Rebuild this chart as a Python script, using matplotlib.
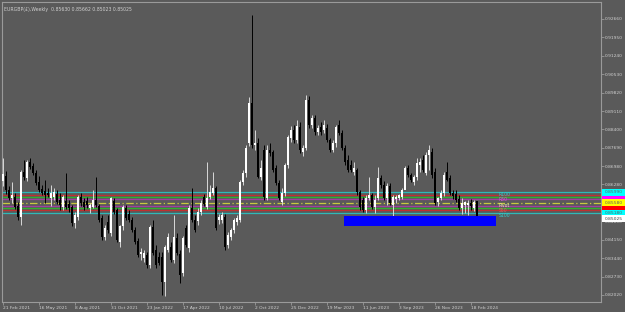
#!/usr/bin/env python3
# -*- coding: utf-8 -*-
"""
Weekly EURGBP candles with pivot levels, drawn in a terminal-like style.
"""

import matplotlib
matplotlib.use('Agg')
import matplotlib.pyplot as plt
import matplotlib.transforms as mtransforms
from matplotlib.patches import Rectangle

# weekly candles, 21 Feb 2021 .. 3 Mar 2024
opens = [
    0.8642, 0.8661, 0.8607, 0.8576, 0.8580, 0.8545, 0.8503, 0.8676, 0.8653, 0.8715,
    0.8699, 0.8672, 0.8638, 0.8611, 0.8603, 0.8595, 0.8576, 0.8580, 0.8591, 0.8568,
    0.8541, 0.8564, 0.8553, 0.8541, 0.8480, 0.8503, 0.8580, 0.8560, 0.8564, 0.8537,
    0.8541, 0.8568, 0.8545, 0.8499, 0.8426, 0.8484, 0.8441, 0.8564, 0.8530, 0.8406,
    0.8468, 0.8537, 0.8514, 0.8491, 0.8453, 0.8410, 0.8360, 0.8345, 0.8356, 0.8318,
    0.8464, 0.8376, 0.8349, 0.8349, 0.8252, 0.8376, 0.8387, 0.8337, 0.8422, 0.8360,
    0.8287, 0.8460, 0.8383, 0.8537, 0.8491, 0.8487, 0.8522, 0.8580, 0.8541, 0.8580,
    0.8595, 0.8615, 0.8491, 0.8491, 0.8503, 0.8395, 0.8426, 0.8453, 0.8484, 0.8491,
    0.8638, 0.8672, 0.8788, 0.8942, 0.8780, 0.8788, 0.8657, 0.8761, 0.8576, 0.8761,
    0.8753, 0.8692, 0.8634, 0.8560, 0.8595, 0.8703, 0.8807, 0.8838, 0.8800, 0.8850,
    0.8753, 0.8769, 0.8954, 0.8857, 0.8884, 0.8830, 0.8850, 0.8838, 0.8846, 0.8800,
    0.8761, 0.8788, 0.8857, 0.8827, 0.8769, 0.8722, 0.8703, 0.8676, 0.8684, 0.8599,
    0.8568, 0.8530, 0.8576, 0.8588, 0.8541, 0.8576, 0.8653, 0.8626, 0.8576, 0.8622,
    0.8549, 0.8572, 0.8576, 0.8580, 0.8607, 0.8692, 0.8665, 0.8638, 0.8657, 0.8703,
    0.8722, 0.8672, 0.8742, 0.8753, 0.8676, 0.8560, 0.8576, 0.8595, 0.8676, 0.8653,
    0.8595, 0.8591, 0.8572, 0.8537, 0.8549, 0.8549, 0.8557, 0.8537, 0.8563,
]
highs = [
    0.8730, 0.8680, 0.8622, 0.8638, 0.8595, 0.8560, 0.8684, 0.8722, 0.8722, 0.8730,
    0.8711, 0.8684, 0.8661, 0.8626, 0.8645, 0.8615, 0.8626, 0.8615, 0.8607, 0.8595,
    0.8588, 0.8672, 0.8568, 0.8549, 0.8522, 0.8588, 0.8595, 0.8576, 0.8580, 0.8557,
    0.8607, 0.8657, 0.8553, 0.8511, 0.8472, 0.8511, 0.8580, 0.8576, 0.8537, 0.8472,
    0.8549, 0.8549, 0.8530, 0.8503, 0.8464, 0.8422, 0.8383, 0.8376, 0.8368, 0.8472,
    0.8491, 0.8395, 0.8368, 0.8368, 0.8395, 0.8441, 0.8406, 0.8511, 0.8441, 0.8376,
    0.8429, 0.8472, 0.8549, 0.8615, 0.8511, 0.8537, 0.8568, 0.8592, 0.8715, 0.8626,
    0.8676, 0.8622, 0.8514, 0.8522, 0.8514, 0.8445, 0.8460, 0.8499, 0.8511, 0.8645,
    0.8684, 0.8780, 0.8965, 0.9282, 0.8838, 0.8807, 0.8722, 0.8780, 0.8780, 0.8788,
    0.8761, 0.8703, 0.8645, 0.8615, 0.8711, 0.8819, 0.8854, 0.8857, 0.8877, 0.8869,
    0.8780, 0.8973, 0.8969, 0.8896, 0.8896, 0.8857, 0.8869, 0.8877, 0.8861, 0.8807,
    0.8800, 0.8857, 0.8877, 0.8838, 0.8780, 0.8742, 0.8722, 0.8715, 0.8692, 0.8607,
    0.8580, 0.8588, 0.8657, 0.8595, 0.8588, 0.8695, 0.8665, 0.8642, 0.8634, 0.8634,
    0.8588, 0.8588, 0.8591, 0.8615, 0.8699, 0.8703, 0.8672, 0.8665, 0.8730, 0.8730,
    0.8742, 0.8753, 0.8780, 0.8769, 0.8692, 0.8580, 0.8607, 0.8676, 0.8715, 0.8665,
    0.8607, 0.8607, 0.8588, 0.8576, 0.8564, 0.8568, 0.8572, 0.8568, 0.85662,
]
lows = [
    0.8622, 0.8591, 0.8568, 0.8557, 0.8534, 0.8491, 0.8472, 0.8645, 0.8642, 0.8688,
    0.8665, 0.8626, 0.8599, 0.8588, 0.8557, 0.8580, 0.8545, 0.8568, 0.8553, 0.8530,
    0.8530, 0.8534, 0.8522, 0.8468, 0.8460, 0.8491, 0.8545, 0.8530, 0.8537, 0.8518,
    0.8537, 0.8541, 0.8484, 0.8414, 0.8414, 0.8441, 0.8429, 0.8514, 0.8406, 0.8387,
    0.8453, 0.8491, 0.8484, 0.8445, 0.8399, 0.8349, 0.8337, 0.8329, 0.8306, 0.8306,
    0.8356, 0.8306, 0.8318, 0.8202, 0.8198, 0.8368, 0.8329, 0.8325, 0.8356, 0.8248,
    0.8275, 0.8387, 0.8368, 0.8484, 0.8445, 0.8472, 0.8511, 0.8545, 0.8534, 0.8572,
    0.8588, 0.8453, 0.8476, 0.8480, 0.8376, 0.8383, 0.8414, 0.8441, 0.8472, 0.8484,
    0.8626, 0.8657, 0.8776, 0.8769, 0.8761, 0.8653, 0.8645, 0.8568, 0.8568, 0.8738,
    0.8676, 0.8626, 0.8568, 0.8549, 0.8584, 0.8692, 0.8792, 0.8788, 0.8788, 0.8749,
    0.8738, 0.8761, 0.8846, 0.8846, 0.8819, 0.8819, 0.8819, 0.8827, 0.8792, 0.8753,
    0.8753, 0.8772, 0.8819, 0.8761, 0.8703, 0.8676, 0.8676, 0.8665, 0.8588, 0.8530,
    0.8522, 0.8518, 0.8568, 0.8534, 0.8518, 0.8568, 0.8615, 0.8568, 0.8549, 0.8549,
    0.8491, 0.8557, 0.8568, 0.8572, 0.8653, 0.8657, 0.8638, 0.8626, 0.8645, 0.8676,
    0.8676, 0.8665, 0.8684, 0.8653, 0.8549, 0.8545, 0.8568, 0.8584, 0.8642, 0.8588,
    0.8572, 0.8560, 0.8530, 0.8514, 0.8518, 0.8511, 0.8530, 0.8526, 0.85023,
]
closes = [
    0.8669, 0.8607, 0.8576, 0.8588, 0.8541, 0.8503, 0.8676, 0.8657, 0.8715, 0.8695,
    0.8672, 0.8634, 0.8607, 0.8595, 0.8588, 0.8588, 0.8595, 0.8599, 0.8560, 0.8549,
    0.8580, 0.8541, 0.8537, 0.8480, 0.8511, 0.8580, 0.8557, 0.8541, 0.8549, 0.8549,
    0.8568, 0.8549, 0.8491, 0.8426, 0.8460, 0.8453, 0.8576, 0.8522, 0.8414, 0.8468,
    0.8541, 0.8499, 0.8491, 0.8453, 0.8406, 0.8356, 0.8368, 0.8364, 0.8318, 0.8464,
    0.8364, 0.8318, 0.8325, 0.8252, 0.8387, 0.8426, 0.8337, 0.8426, 0.8364, 0.8279,
    0.8422, 0.8395, 0.8537, 0.8491, 0.8453, 0.8522, 0.8557, 0.8553, 0.8576, 0.8599,
    0.8615, 0.8460, 0.8503, 0.8511, 0.8387, 0.8433, 0.8453, 0.8491, 0.8499, 0.8638,
    0.8672, 0.8769, 0.8942, 0.8780, 0.8788, 0.8657, 0.8692, 0.8580, 0.8761, 0.8749,
    0.8684, 0.8634, 0.8576, 0.8595, 0.8703, 0.8811, 0.8838, 0.8800, 0.8854, 0.8761,
    0.8769, 0.8954, 0.8857, 0.8884, 0.8830, 0.8846, 0.8830, 0.8857, 0.8800, 0.8761,
    0.8788, 0.8850, 0.8827, 0.8769, 0.8715, 0.8684, 0.8684, 0.8692, 0.8599, 0.8541,
    0.8530, 0.8576, 0.8588, 0.8541, 0.8568, 0.8653, 0.8626, 0.8576, 0.8622, 0.8557,
    0.8580, 0.8580, 0.8588, 0.8607, 0.8692, 0.8665, 0.8645, 0.8657, 0.8711, 0.8715,
    0.8684, 0.8742, 0.8761, 0.8665, 0.8557, 0.8576, 0.8595, 0.8665, 0.8645, 0.8595,
    0.8584, 0.8568, 0.8537, 0.8557, 0.8560, 0.8557, 0.8545, 0.8560, 0.85025,
]

# x axis labels every 12 weeks
tick_index = [0, 12, 24, 36, 48, 60, 72, 84, 96, 108, 120, 132, 144, 156]
tick_dates = [
    '21 Feb 2021', '16 May 2021', '8 Aug 2021', '31 Oct 2021', '23 Jan 2022',
    '17 Apr 2022', '10 Jul 2022', '2 Oct 2022', '25 Dec 2022', '19 Mar 2023',
    '11 Jun 2023', '3 Sep 2023', '26 Nov 2023', '18 Feb 2024',
]
price_ticks = [
    0.92660, 0.91950, 0.91240, 0.90530, 0.89820, 0.89110, 0.88400, 0.87690,
    0.86980, 0.86280, 0.85570, 0.84860, 0.84150, 0.83440, 0.82730, 0.82020,
]

# pivot levels
level_prices = [0.8599, 0.8588, 0.8580, 0.8572, 0.8558, 0.8547, 0.8537, 0.8530, 0.8518]
level_colors = ['#2fb8b8', '#c03030', '#30b030', '#a040a0', '#c8c840',
                '#a040a0', '#30b030', '#c03030', '#2fb8b8']
level_box_colors = ['#00ffff', '#ff0000', '#00ff00', '#ff00ff', '#ffff00',
                    '#ff00ff', '#00ff00', '#ff0000', '#00ffff']
level_names = ['R100', 'R50', 'Pivot', 'S50', 'S100']
level_name_prices = [0.8599, 0.85795, 0.8558, 0.85375, 0.8518]
level_name_colors = ['#30d0d0', '#e050e0', '#f0f0b0', '#e06060', '#30d0d0']

zone_start, zone_end = 113.7, 164.3
zone_top, zone_bottom = 0.8507, 0.8468

BG = '#5a5a5a'
FG = '#d0d0d0'

fig = plt.figure(figsize=(6.25, 3.12), dpi=100, facecolor=BG)
ax = fig.add_axes([2 / 625, 10 / 312, 599 / 625, 300 / 312], facecolor=BG)

# candles
for i in range(len(opens)):
    o, h, l, c = opens[i], highs[i], lows[i], closes[i]
    if c >= o:
        body, wick = '#ffffff', '#d8d8d8'
    else:
        body, wick = '#000000', '#000000'
    ax.vlines(i, l, h, color=wick, linewidth=0.7, zorder=3)
    ax.bar(i, max(abs(c - o), 0.00015), bottom=min(o, c), width=0.62,
           color=body, linewidth=0, zorder=4)

# pivot lines
for p, col in zip(level_prices, level_colors):
    ls = (0, (6, 2, 1, 2)) if col == '#c8c840' else '-'
    ax.axhline(p, color=col, linewidth=0.9, linestyle=ls, zorder=2)

for name, p, col in zip(level_names, level_name_prices, level_name_colors):
    ax.text(165.3, p, name, color=col, fontsize=3.3, va='top', ha='left',
            zorder=6)

ax.add_patch(Rectangle((zone_start, zone_bottom), zone_end - zone_start,
                       zone_top - zone_bottom, facecolor='#0000ff',
                       edgecolor='none', zorder=5))

ax.set_xlim(-0.33, 199.3)
ax.set_ylim(0.8175, 0.93315)

# axes look
for side in ['left', 'top', 'right', 'bottom']:
    ax.spines[side].set_color('#9a9a9a')
    ax.spines[side].set_linewidth(0.8)

ax.yaxis.tick_right()
ax.set_yticks(price_ticks)
ax.set_yticklabels(['%.5f' % v for v in price_ticks])
ax.tick_params(axis='y', colors='#9a9a9a', labelcolor=FG, labelsize=3.2,
               length=2, width=0.6, pad=1)
ax.set_xticks(tick_index)
ax.set_xticklabels(tick_dates)
ax.tick_params(axis='x', colors='#9a9a9a', labelcolor=FG, labelsize=3.2,
               length=2, width=0.6, pad=1)
for lbl in ax.get_xticklabels():
    lbl.set_horizontalalignment('left')

# right side price boxes
trans = mtransforms.blended_transform_factory(ax.transAxes, ax.transData)
box_h = 0.0027
order = [1, 2, 3, 5, 6, 7, 0, 8, 4]
for k in order:
    p = level_prices[k]
    ax.add_patch(Rectangle((1.001, p - box_h / 2), 0.04, box_h, transform=trans,
                           facecolor=level_box_colors[k], edgecolor='none',
                           clip_on=False, zorder=7))
    if k in (0, 4, 8):
        ax.text(1.006, p, '%.5f' % p, transform=trans, fontsize=3.2,
                color='#606060', va='center', ha='left', clip_on=False, zorder=8)
ax.add_patch(Rectangle((1.001, closes[-1] - box_h * 0.75), 0.04, box_h,
                       transform=trans, facecolor='#ffffff', edgecolor='none',
                       clip_on=False, zorder=7))
ax.text(1.006, closes[-1] - box_h * 0.25, '%.5f' % closes[-1], transform=trans,
        fontsize=3.2, color='#404040', va='center', ha='left', clip_on=False,
        zorder=8)

ax.text(0.003, 0.985, 'EURGBP(£),Weekly  %.5f %.5f %.5f %.5f'
        % (opens[-1], highs[-1], lows[-1], closes[-1]),
        transform=ax.transAxes, color=FG, fontsize=3.3, va='top', ha='left')

fig.savefig('out.png', dpi=100, facecolor=BG)
